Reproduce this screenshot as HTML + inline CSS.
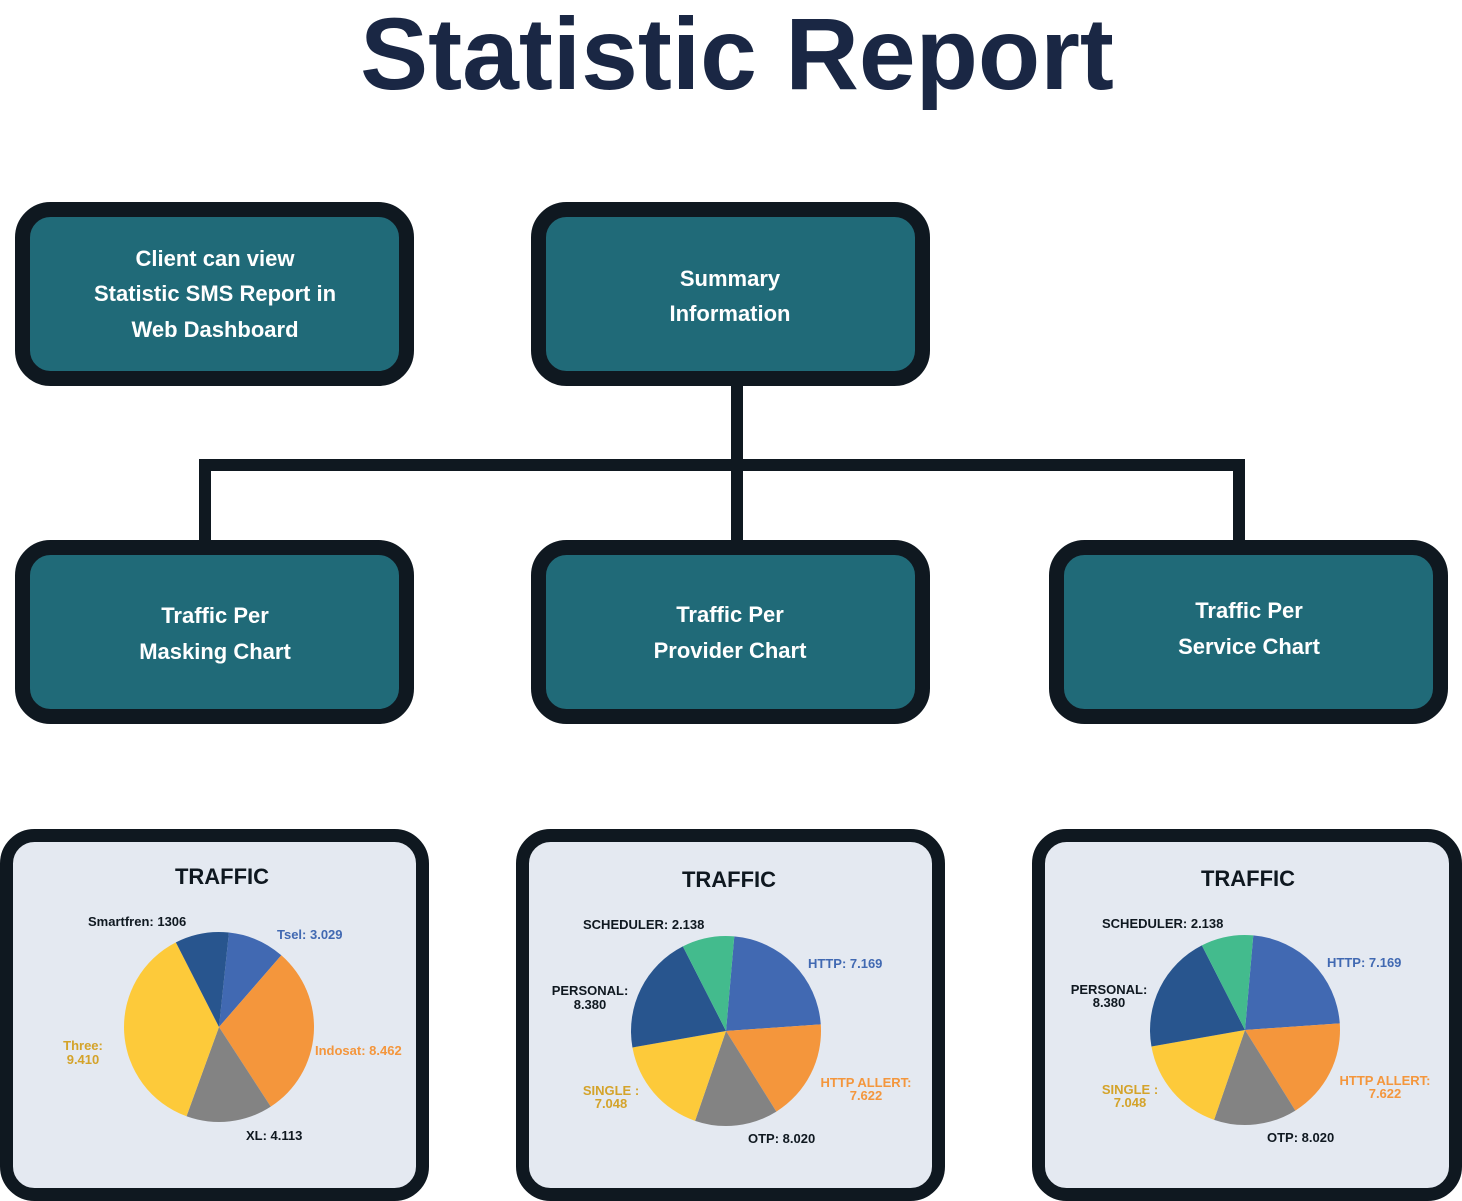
<!DOCTYPE html>
<html><head><meta charset="utf-8"><style>
html,body{margin:0;padding:0;background:#fff;}
svg{display:block;font-family:"Liberation Sans",Arial,sans-serif;}
</style></head><body>
<svg id="s" width="1462" height="1201" viewBox="0 0 1462 1201" xmlns="http://www.w3.org/2000/svg">
<text x="737" y="89" text-anchor="middle" font-size="102" font-weight="bold" fill="#1a2744">Statistic Report</text>
<g stroke="#0f1820" stroke-width="12" fill="none">
<line x1="737" y1="380" x2="737" y2="546"/>
<polyline points="205,546 205,465 1239,465 1239,546"/>
</g>
<g fill="#206a78" stroke="#0f1820" stroke-width="15">
<rect x="22.5" y="209.5" width="384" height="169" rx="28"/>
<rect x="538.5" y="209.5" width="384" height="169" rx="28"/>
<rect x="22.5" y="547.5" width="384" height="169" rx="28"/>
<rect x="538.5" y="547.5" width="384" height="169" rx="28"/>
<rect x="1056.5" y="547.5" width="384" height="169" rx="28"/>
</g>
<g fill="#fff" font-size="22" font-weight="bold" text-anchor="middle">
<text x="215" y="266">Client can view</text>
<text x="215" y="301">Statistic SMS Report in</text>
<text x="215" y="337">Web Dashboard</text>
<text x="730" y="286">Summary</text>
<text x="730" y="321">Information</text>
<text x="215" y="623">Traffic Per</text>
<text x="215" y="659">Masking Chart</text>
<text x="730" y="622">Traffic Per</text>
<text x="730" y="658">Provider Chart</text>
<text x="1249" y="618">Traffic Per</text>
<text x="1249" y="654">Service Chart</text>
</g>
<g fill="#e4e9f1" stroke="#0f1820" stroke-width="13">
<rect x="6.5" y="835.5" width="416" height="359" rx="28"/>
<rect x="522.5" y="835.5" width="416" height="359" rx="28"/>
<rect x="1038.5" y="835.5" width="417" height="359" rx="28"/>
</g>
<g id="pies"></g>
<g font-weight="bold" font-size="22" fill="#0f1820" text-anchor="middle">
<text x="222" y="884">TRAFFIC</text>
<text x="729" y="887">TRAFFIC</text>
<text x="1248" y="886">TRAFFIC</text>
</g>
<g font-weight="bold" font-size="13">
<text x="88" y="926" fill="#0f1820">Smartfren: 1306</text>
<text x="277" y="939" fill="#4169b2">Tsel: 3.029</text>
<text x="315" y="1055" fill="#f4963c">Indosat: 8.462</text>
<text x="246" y="1140" fill="#0f1820">XL: 4.113</text>
<text x="83" y="1050" fill="#d4a32a" text-anchor="middle">Three:</text>
<text x="83" y="1064" fill="#d4a32a" text-anchor="middle">9.410</text>

<text x="583" y="929" fill="#0f1820">SCHEDULER: 2.138</text>
<text x="808" y="968" fill="#4169b2">HTTP: 7.169</text>
<text x="590" y="995" fill="#0f1820" text-anchor="middle">PERSONAL:</text>
<text x="590" y="1009" fill="#0f1820" text-anchor="middle">8.380</text>
<text x="611" y="1095" fill="#d4a32a" text-anchor="middle">SINGLE :</text>
<text x="611" y="1108" fill="#d4a32a" text-anchor="middle">7.048</text>
<text x="866" y="1087" fill="#f4963c" text-anchor="middle">HTTP ALLERT:</text>
<text x="866" y="1100" fill="#f4963c" text-anchor="middle">7.622</text>
<text x="748" y="1143" fill="#0f1820">OTP: 8.020</text>

<text x="1102" y="928" fill="#0f1820">SCHEDULER: 2.138</text>
<text x="1327" y="967" fill="#4169b2">HTTP: 7.169</text>
<text x="1109" y="994" fill="#0f1820" text-anchor="middle">PERSONAL:</text>
<text x="1109" y="1007" fill="#0f1820" text-anchor="middle">8.380</text>
<text x="1130" y="1094" fill="#d4a32a" text-anchor="middle">SINGLE :</text>
<text x="1130" y="1107" fill="#d4a32a" text-anchor="middle">7.048</text>
<text x="1385" y="1085" fill="#f4963c" text-anchor="middle">HTTP ALLERT:</text>
<text x="1385" y="1098" fill="#f4963c" text-anchor="middle">7.622</text>
<text x="1267" y="1142" fill="#0f1820">OTP: 8.020</text>
</g>
</svg>
<script>
(function(){
var g=document.getElementById('pies'),NS='http://www.w3.org/2000/svg';
function pie(cx,cy,r,b,cols){
 for(var i=0;i<b.length;i++){
  var a0=b[i],a1=b[(i+1)%b.length];if(a1<=a0)a1+=360;
  var p=function(a){a=a*Math.PI/180;return [cx+r*Math.sin(a),cy-r*Math.cos(a)];};
  var s=p(a0),e=p(a1),l=(a1-a0)>180?1:0;
  var path=document.createElementNS(NS,'path');
  path.setAttribute('d','M'+cx+','+cy+'L'+s[0]+','+s[1]+'A'+r+','+r+' 0 '+l+' 1 '+e[0]+','+e[1]+'Z');
  path.setAttribute('fill',cols[i]);g.appendChild(path);
 }
}
pie(219,1027,95,[6,41,147,200,333],['#4169b2','#f4963c','#838383','#fdca3a','#28558e']);
var c2=['#4169b2','#f4963c','#838383','#fdca3a','#28558e','#43bb8d'];
pie(726,1031,95,[5,86,148,199,260,333],c2);
pie(1245,1030,95,[5,86,148,199,260,333],c2);
})();
</script>
</body></html>
